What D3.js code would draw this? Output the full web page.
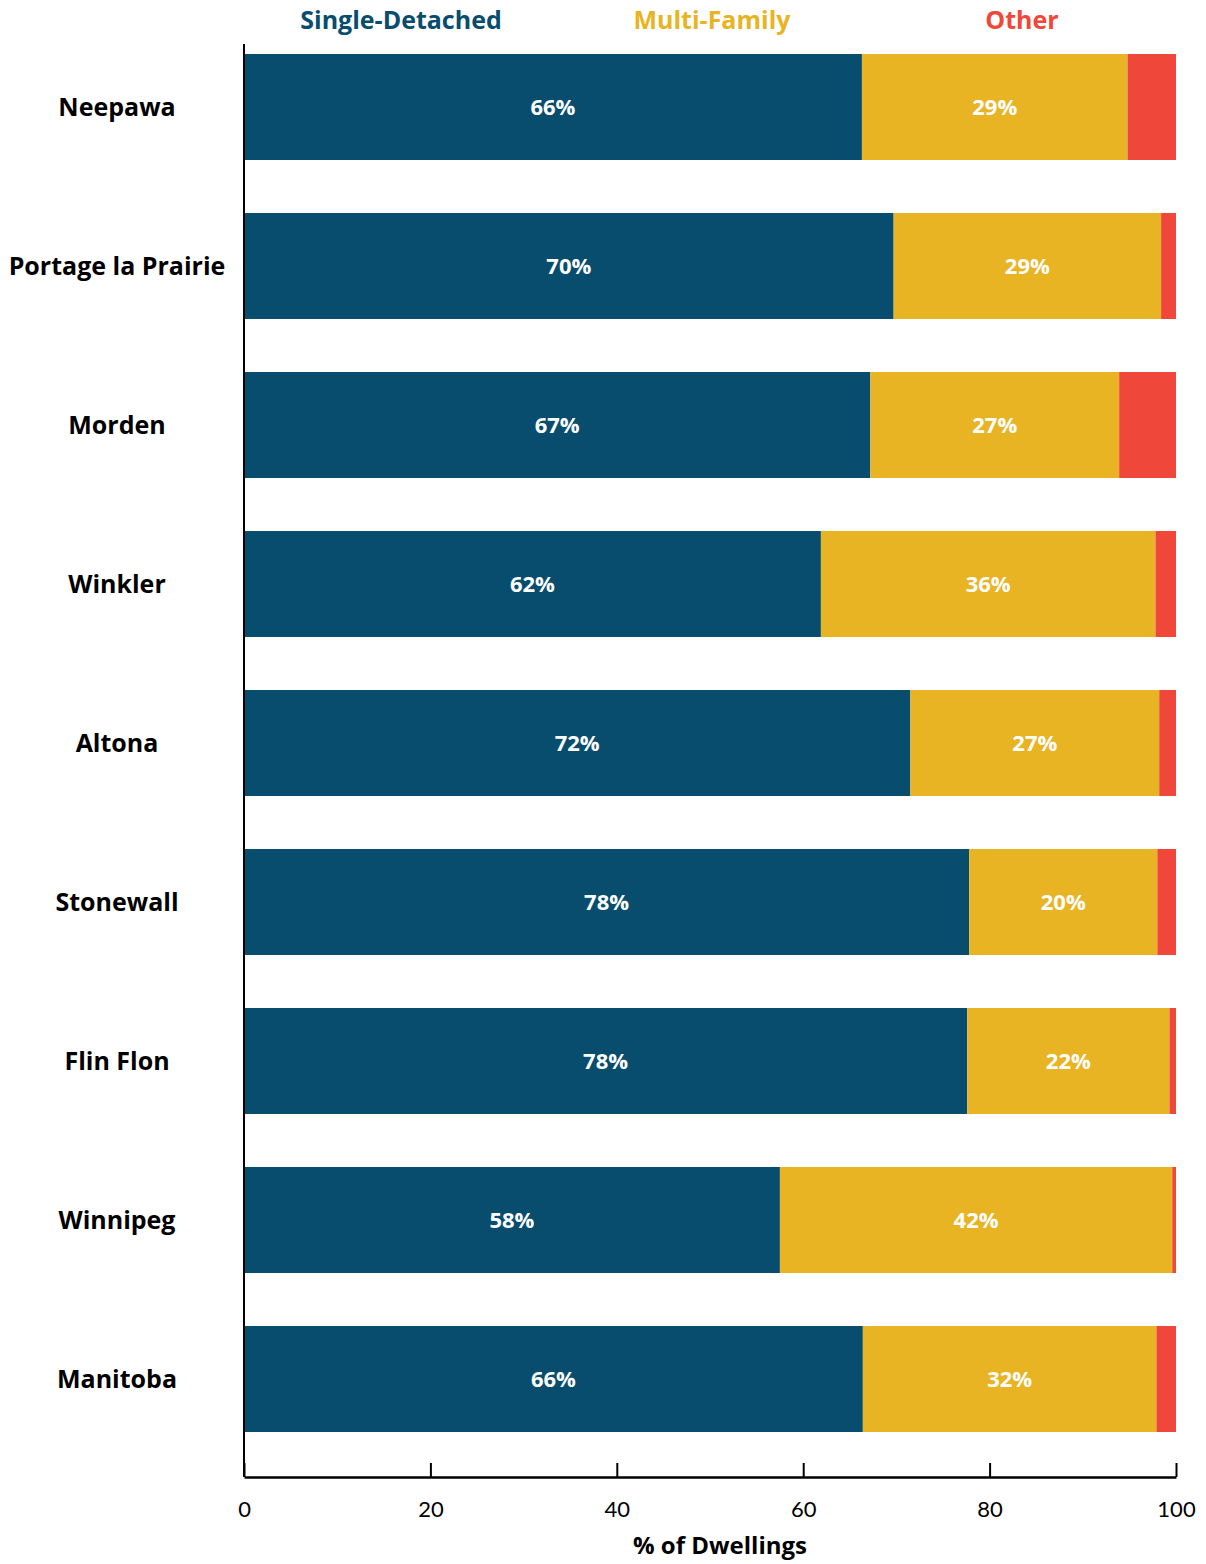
<!DOCTYPE html>
<html>
<head>
<meta charset="utf-8">
<script src="https://cdn.jsdelivr.net/npm/d3@7"></script>
<style>
  body { margin: 0; background: #fff; }
  svg { font-family: "Open Sans", "Noto Sans", sans-serif; }
</style>
</head>
<body>
<svg id="chart" width="1206" height="1564"></svg>
<script>
const places = ["Neepawa", "Portage la Prairie", "Morden", "Winkler", "Altona", "Stonewall", "Flin Flon", "Winnipeg", "Manitoba"];
const singleDetached = [66.3, 69.7, 67.2, 61.9, 71.5, 77.8, 77.6, 57.5, 66.4];
const multiFamily = [28.5, 28.7, 26.7, 35.9, 26.7, 20.2, 21.7, 42.1, 31.5];
const other = [5.2, 1.6, 6.1, 2.2, 1.8, 2.0, 0.7, 0.4, 2.1];
const seriesNames = ["Single-Detached", "Multi-Family", "Other"];
const seriesColors = ["#084d6d", "#e9b423", "#ef4739"];
const xTicks = [0, 20, 40, 60, 80, 100];

const svg = d3.select("#chart");

// rows for the stack
const rows = places.map((p, i) => ({
    place: p,
    "Single-Detached": singleDetached[i],
    "Multi-Family": multiFamily[i],
    "Other": other[i]
}));
const stacked = d3.stack().keys(seriesNames)(rows);

const x = d3.scaleLinear().domain([0, 100]).range([244, 1176]);
const y = d3.scaleBand()
    .domain(places)
    .range([27.5, 1458.5])
    .paddingInner(1 / 3)
    .paddingOuter(1 / 6);
const color = d3.scaleOrdinal().domain(seriesNames).range(seriesColors);

const axisY = 1477;

// bars
stacked.forEach((layer, li) => {
    svg.append("g")
        .selectAll("rect")
        .data(layer)
        .enter().append("rect")
        .attr("x", d => x(d[0]))
        .attr("y", d => y(d.data.place))
        .attr("width", d => x(d[1]) - x(d[0]))
        .attr("height", y.bandwidth())
        .attr("fill", color(layer.key));

    // labels only for the two big series
    if (layer.key !== "Other") {
        svg.append("g")
            .selectAll("text")
            .data(layer)
            .enter().append("text")
            .attr("x", d => (x(d[0]) + x(d[1])) / 2)
            .attr("y", d => y(d.data.place) + y.bandwidth() / 2)
            .attr("dy", "0.36em")
            .attr("text-anchor", "middle")
            .attr("fill", "#fff")
            .attr("font-size", 22)
            .attr("font-weight", 700)
            .text(d => Math.round(d[1] - d[0]) + "%");
    }
});

// category labels
svg.append("g")
    .selectAll("text")
    .data(places)
    .enter().append("text")
    .attr("x", 117)
    .attr("y", d => y(d) + y.bandwidth() / 2)
    .attr("dy", "0.36em")
    .attr("text-anchor", "middle")
    .attr("font-size", 25)
    .attr("font-weight", 700)
    .attr("fill", "#000")
    .text(d => d);

// y axis line
svg.append("line")
    .attr("x1", 244).attr("x2", 244)
    .attr("y1", 44).attr("y2", axisY)
    .attr("stroke", "#000")
    .attr("stroke-width", 2);

// x axis, ticks point up into the plot
const xAxis = svg.append("g")
    .attr("transform", `translate(0,${axisY})`)
    .call(d3.axisBottom(x).tickValues(xTicks).tickSizeInner(-14).tickSizeOuter(0).tickPadding(24));
xAxis.select(".domain").attr("stroke", "#000").attr("stroke-width", 2.5);
xAxis.selectAll(".tick line").attr("stroke", "#000").attr("stroke-width", 2);
xAxis.selectAll(".tick text")
    .attr("font-size", 22)
    .attr("font-family", "Lato, 'Noto Sans', sans-serif")
    .attr("fill", "#000");

svg.append("text")
    .attr("x", 720)
    .attr("y", 1554)
    .attr("text-anchor", "middle")
    .attr("font-size", 24)
    .attr("font-weight", 700)
    .text("% of Dwellings");

// legend across the top
const legendX = [401, 712, 1022];
svg.append("g")
    .selectAll("text")
    .data(seriesNames)
    .enter().append("text")
    .attr("x", (d, i) => legendX[i])
    .attr("y", 29)
    .attr("text-anchor", "middle")
    .attr("font-size", 25)
    .attr("font-weight", 700)
    .attr("fill", d => color(d))
    .text(d => d);
</script>
</body>
</html>
